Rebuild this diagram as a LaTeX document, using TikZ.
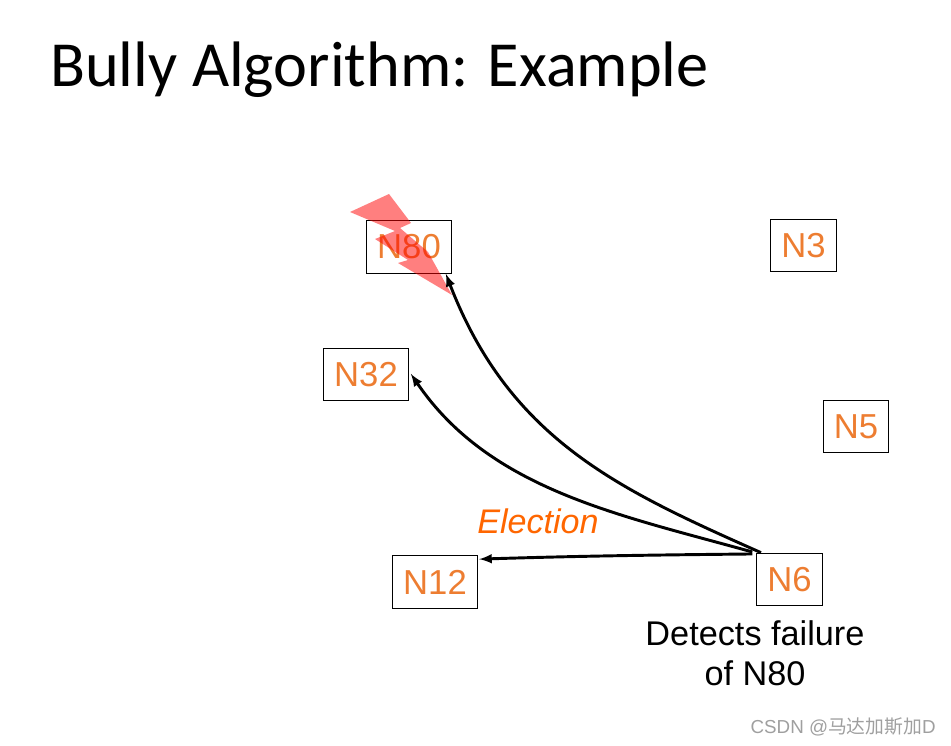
\documentclass[tikz,border=0pt]{standalone}
\usepackage{fontspec}
\setmainfont{Liberation Sans}
\newfontfamily\titlefont{Carlito}
\newfontfamily\cjkfont{Noto Sans CJK SC}
\definecolor{nodeorange}{HTML}{ED7D31}
\definecolor{electionorange}{HTML}{FF6600}
\usetikzlibrary{arrows}

\begin{document}
\begin{tikzpicture}[x=0.75pt, y=-0.75pt, >=latex,
				procwide/.style={draw, text=nodeorange, font=\fontsize{26}{30}\selectfont, line width=0.8pt, inner sep=0pt, minimum width=63.5pt, minimum height=39.5pt},
				procnarrow/.style={procwide, minimum width=49pt},
				msg/.style={->, line width=2.2pt}]
				\useasboundingbox (0,0) rectangle (951,746);
				% Titel
				\node[anchor=west, inner sep=0pt, font=\titlefont\fontsize{48.2}{54}\selectfont] (title) at (50,70) {Bully Algorithm: Example};
				% Knoten
				\node[procwide] (N80) at (409,247) {N80};
				\node[procnarrow] (N3) at (803.5,245.5) {N3};
				\node[procwide] (N32) at (366,374.5) {N32};
				\node[procnarrow] (N5) at (856,426.5) {N5};
				\node[procwide] (N12) at (435,582) {N12};
				\node[procnarrow] (N6) at (789.5,579.5) {N6};
				% Blitz
				\fill[red, fill opacity=0.5] (350,212) -- (389,194) -- (411,223) -- (400,228) -- (428,252) -- (452,295) -- (398,263) -- (408,260) -- (375,239) -- (395,231) -- cycle;
				% Nachrichten
				\coordinate (start) at (N6.north west);
				\draw[msg] ([xshift=3.5pt]start) .. controls (620,490) and (510,440) .. ([xshift=-4.5pt]N80.south east);
				\draw[msg] ([xshift=-3pt,yshift=0.5pt]start) .. controls (620,515) and (490,490) .. ([xshift=1.5pt,yshift=0.5pt]N32.east);
				\draw[msg] ([xshift=-3pt,yshift=-1pt]start) .. controls (650,555) and (580,556) .. ([xshift=1pt,yshift=-3pt]N12.north east);
				% Beschriftung
				\node[text=electionorange, font=\fontsize{25.6}{30}\selectfont\itshape] (election) at (538,521) {Election};
				\node[font=\fontsize{25.7}{30}\selectfont, align=center] (detects) at (755,653.5) {Detects failure\\of N80};
				\node[anchor=east, inner sep=0pt, text=gray!75, font=\fontsize{14.1}{16}\selectfont] (mark) at (936,727) {CSDN @{\cjkfont 马达加斯加}D};
\end{tikzpicture}
\end{document}
